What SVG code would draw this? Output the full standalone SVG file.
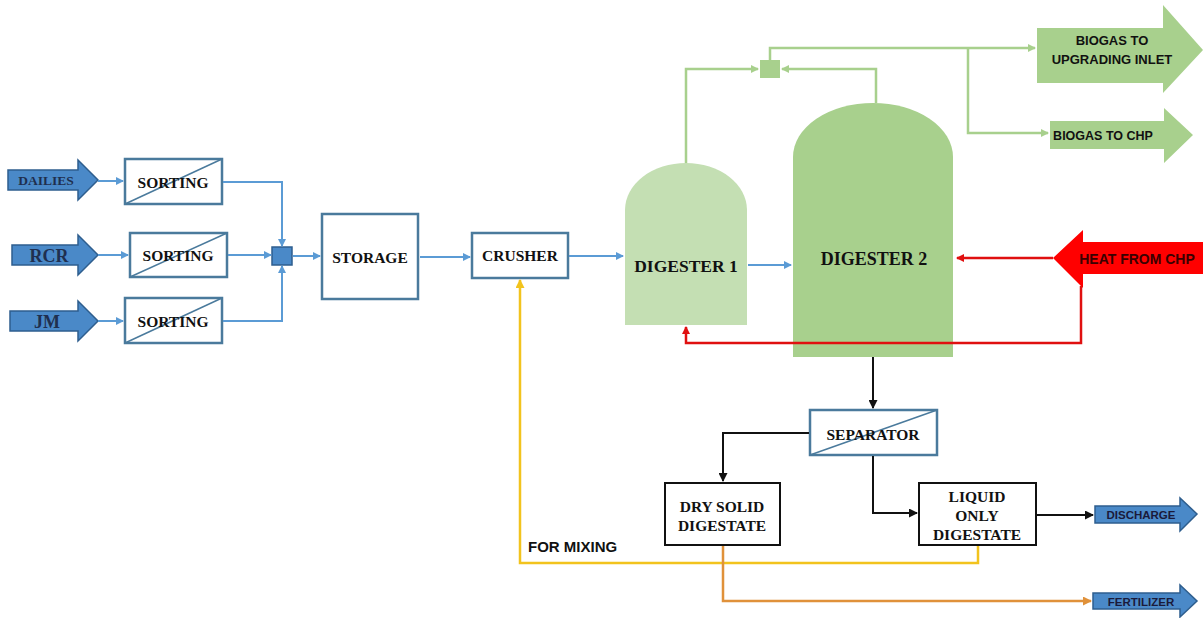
<svg xmlns="http://www.w3.org/2000/svg" width="1203" height="618" viewBox="0 0 1203 618">
<defs>
<style>
.box{fill:#fff;stroke:#4a7a9c;stroke-width:2.5}
.bbox{fill:#fff;stroke:#111;stroke-width:2}
.diag{stroke:#4a7a9c;stroke-width:1.5}
.serif{font-family:"Liberation Serif","Times New Roman",serif;font-weight:bold;fill:#111;text-anchor:middle;dominant-baseline:central}
.sans{font-family:"Liberation Sans",Arial,sans-serif;font-weight:bold;text-anchor:middle;dominant-baseline:central}
.blue{fill:none;stroke:#5b9bd5;stroke-width:2}
.green{fill:none;stroke:#a8d08d;stroke-width:2.5}
.red{fill:none;stroke:#e01010;stroke-width:2.5}
.black{fill:none;stroke:#111;stroke-width:2}
.yellow{fill:none;stroke:#f2c31d;stroke-width:2.5}
.orange{fill:none;stroke:#e0913a;stroke-width:2.5}
.barrow{fill:#4a89c8;stroke:#2e5e8e;stroke-width:1.5}
.garrow{fill:#a8d08d}
</style>
<marker id="mb" markerWidth="8" markerHeight="8" refX="7" refY="4" orient="auto" markerUnits="userSpaceOnUse"><path d="M0,0 L8,4 L0,8 z" fill="#5b9bd5"/></marker>
<marker id="mg" markerWidth="8" markerHeight="8" refX="7" refY="4" orient="auto" markerUnits="userSpaceOnUse"><path d="M0,0 L8,4 L0,8 z" fill="#a8d08d"/></marker>
<marker id="mr" markerWidth="8" markerHeight="8" refX="7" refY="4" orient="auto" markerUnits="userSpaceOnUse"><path d="M0,0 L8,4 L0,8 z" fill="#e01010"/></marker>
<marker id="mk" markerWidth="9" markerHeight="9" refX="8" refY="4.5" orient="auto" markerUnits="userSpaceOnUse"><path d="M0,0 L9,4.5 L0,9 z" fill="#111"/></marker>
<marker id="my" markerWidth="9" markerHeight="9" refX="8" refY="4.5" orient="auto" markerUnits="userSpaceOnUse"><path d="M0,0 L9,4.5 L0,9 z" fill="#f2c31d"/></marker>
<marker id="mo" markerWidth="9" markerHeight="9" refX="8" refY="4.5" orient="auto" markerUnits="userSpaceOnUse"><path d="M0,0 L9,4.5 L0,9 z" fill="#e0913a"/></marker>
</defs>
<rect width="1203" height="618" fill="#fff"/>

<g id="dailies">
<path class="barrow" d="M8,170 H78 V160 L98,180 L78,200 V190 H8 z"/>
<text class="serif" x="46" y="180" font-size="13.5" style="fill:#1f2f4f">DAILIES</text>
</g>
<g id="rcr">
<path class="barrow" d="M12,245 H78 V235 L98,255 L78,275 V265 H12 z"/>
<text class="serif" x="49" y="256" font-size="18" style="fill:#1f2f4f">RCR</text>
</g>
<g id="jm">
<path class="barrow" d="M10,311 H78 V301 L98,321 L78,341 V331 H10 z"/>
<text class="serif" x="47" y="322" font-size="18" style="fill:#1f2f4f">JM</text>
</g>

<g id="sorting1">
<rect class="box" x="125" y="159" width="97" height="45"/>
<line class="diag" x1="125" y1="204" x2="222" y2="159"/>
<text class="serif" x="173" y="182" font-size="15.5">SORTING</text>
</g>
<g id="sorting2">
<rect class="box" x="130" y="233" width="97" height="44"/>
<line class="diag" x1="130" y1="277" x2="227" y2="233"/>
<text class="serif" x="178" y="255" font-size="15.5">SORTING</text>
</g>
<g id="sorting3">
<rect class="box" x="125" y="298" width="97" height="45"/>
<line class="diag" x1="125" y1="343" x2="222" y2="298"/>
<text class="serif" x="173" y="321" font-size="15.5">SORTING</text>
</g>

<g id="junction1">
<rect x="272" y="247" width="20" height="18" fill="#4a89c8" stroke="#2e5e8e" stroke-width="1.5"/>
</g>

<g id="storage">
<rect class="box" x="322" y="214" width="96" height="85"/>
<text class="serif" x="370" y="257" font-size="15.5">STORAGE</text>
</g>
<g id="crusher">
<rect class="box" x="472" y="233" width="96" height="45"/>
<text class="serif" x="520" y="255" font-size="15.5">CRUSHER</text>
</g>

<g id="digester1">
<path d="M625,325 V210 A61,47 0 0 1 747,210 V325 z" fill="#c4dfb3"/>
<text class="serif" x="686" y="266" font-size="17.5">DIGESTER 1</text>
</g>
<g id="digester2">
<path d="M793,357 V157 A80,54 0 0 1 953,157 V357 z" fill="#a8d08d"/>
<text class="serif" x="874" y="259" font-size="18">DIGESTER 2</text>
</g>

<g id="junction2">
<rect x="760" y="60" width="20" height="18" fill="#a8d08d"/>
</g>

<g id="biogas-upgrading">
<path class="garrow" d="M1037,28 H1163 V5 L1203,50 L1163,93 V83 H1037 z"/>
<text class="sans" x="1112" y="40" font-size="13" fill="#111">BIOGAS TO</text>
<text class="sans" x="1112" y="59" font-size="13" fill="#111">UPGRADING INLET</text>
</g>
<g id="biogas-chp">
<path class="garrow" d="M1050,121 H1164 V108 L1193,135 L1164,163 V149 H1050 z"/>
<text class="sans" x="1103" y="136" font-size="12.5" fill="#111">BIOGAS TO CHP</text>
</g>

<g id="heat">
<path d="M1203,242 H1083 V230 L1053,258 L1083,288 V274 H1203 z" fill="#ff0000"/>
<text class="sans" x="1137" y="259" font-size="14" fill="#3a0000">HEAT FROM CHP</text>
</g>

<g id="separator">
<rect class="box" x="810" y="410" width="127" height="45"/>
<line class="diag" x1="810" y1="455" x2="937" y2="410"/>
<text class="serif" x="873" y="434" font-size="15.5">SEPARATOR</text>
</g>
<g id="dry-solid">
<rect class="bbox" x="665" y="483" width="115" height="62"/>
<text class="serif" x="722" y="506" font-size="15.5">DRY SOLID</text>
<text class="serif" x="722" y="525" font-size="15.5">DIGESTATE</text>
</g>
<g id="liquid">
<rect class="bbox" x="919" y="483" width="117" height="62"/>
<text class="serif" x="977" y="496" font-size="15.5">LIQUID</text>
<text class="serif" x="977" y="515" font-size="15.5">ONLY</text>
<text class="serif" x="977" y="534" font-size="15.5">DIGESTATE</text>
</g>

<g id="discharge">
<path class="barrow" d="M1095,506 H1180 V498 L1197,514 L1180,531 V523 H1095 z"/>
<text class="sans" x="1141" y="515" font-size="11.5" fill="#1a1a3a">DISCHARGE</text>
</g>
<g id="fertilizer">
<path class="barrow" d="M1093,593 H1180 V585 L1197,601 L1180,617 V609 H1093 z"/>
<text class="sans" x="1141" y="602" font-size="11.5" fill="#1a1a3a">FERTILIZER</text>
</g>

<g id="for-mixing">
<text x="528" y="546" font-family="Liberation Sans, Arial, sans-serif" font-weight="bold" font-size="15" fill="#111" dominant-baseline="central">FOR MIXING</text>
</g>

<g id="connectors">
<path class="blue" d="M98,181 H123" marker-end="url(#mb)"/>
<path class="blue" d="M98,255 H128" marker-end="url(#mb)"/>
<path class="blue" d="M98,321 H123" marker-end="url(#mb)"/>
<path class="blue" d="M223,182 H282 V246" marker-end="url(#mb)"/>
<path class="blue" d="M228,255 H271" marker-end="url(#mb)"/>
<path class="blue" d="M223,321 H282 V266" marker-end="url(#mb)"/>
<path class="blue" d="M293,256 H320" marker-end="url(#mb)"/>
<path class="blue" d="M420,257 H470" marker-end="url(#mb)"/>
<path class="blue" d="M569,256 H623" marker-end="url(#mb)"/>
<path class="blue" d="M748,265 H791" marker-end="url(#mb)"/>
<path class="green" d="M686,163 V69 H758" marker-end="url(#mg)"/>
<path class="green" d="M876,103 V69 H782" marker-end="url(#mg)"/>
<path class="green" d="M770,60 V48 H1035" marker-end="url(#mg)"/>
<path class="green" d="M968,48 V133 H1048" marker-end="url(#mg)"/>
<path class="red" d="M1053,258 H957" marker-end="url(#mr)"/>
<path class="red" d="M1081,286 V343 H686 V327" marker-end="url(#mr)"/>
<path class="black" d="M873,357 V408" marker-end="url(#mk)"/>
<path class="black" d="M809,433 H723 V481" marker-end="url(#mk)"/>
<path class="black" d="M873,456 V513 H917" marker-end="url(#mk)"/>
<path class="black" d="M1037,515 H1093" marker-end="url(#mk)"/>
<path class="yellow" d="M978,546 V563 H520 V280" marker-end="url(#my)"/>
<path class="orange" d="M723,546 V601 H1091" marker-end="url(#mo)"/>
</g>
</svg>
